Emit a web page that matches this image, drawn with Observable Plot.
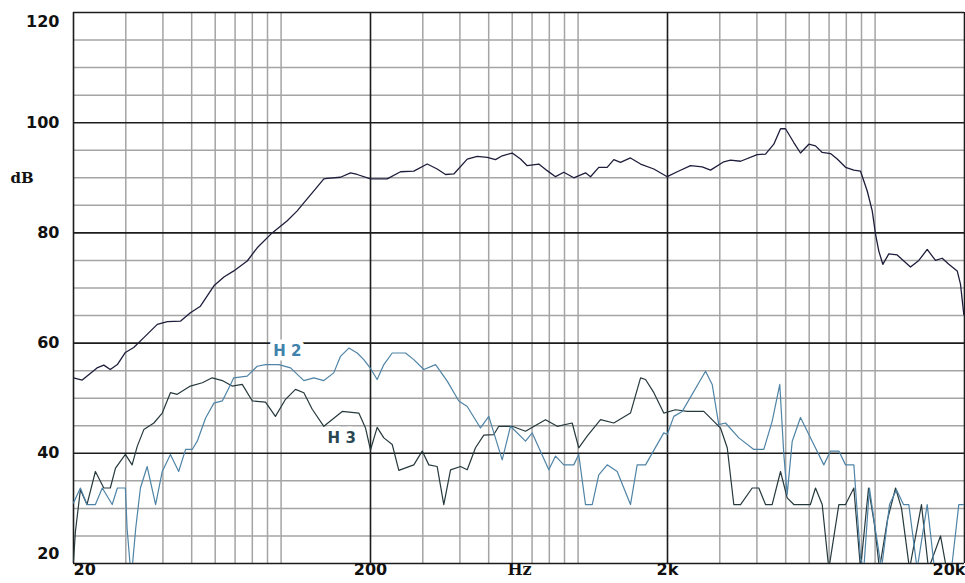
<!DOCTYPE html>
<html><head><meta charset="utf-8">
<script src="https://cdn.jsdelivr.net/npm/d3@7"></script>
<script src="https://cdn.jsdelivr.net/npm/@observablehq/plot@0.6"></script>
<style>body{margin:0;background:#fff}#chart svg{display:block}</style>
</head><body><div id="chart"></div>
<script>
// [frequency Hz, level dB]
const mainCurve = [[20,53.7],[21.4,53.3],[24,55.5],[25.3,56],[26.6,55.2],[28.1,56.1],[29.9,58.3],[31.9,59.2],[34.5,61],[38.3,63.4],[41.4,63.9],[45.9,64],[49.5,65.5],[53.5,66.7],[59.4,70.4],[64.2,72],[69.3,73.1],[76.9,74.9],[83.1,77.3],[93.3,80],[104.9,82.2],[113.3,84],[120.8,85.8],[130.6,88],[139.3,89.8],[143,89.9],[158.5,90.1],[171.3,90.9],[180.4,90.6],[200,89.8],[227.6,89.8],[252.4,91.1],[279.8,91.2],[310.4,92.5],[335.4,91.6],[357.8,90.6],[381.6,90.7],[423.4,93.4],[457.4,93.9],[494.4,93.7],[527.2,93.3],[555.2,94],[600,94.5],[640,93.4],[674,92.2],[737.4,92.5],[787,91.3],[839.4,90.2],[895.2,91],[967.2,90],[1059,90.9],[1101,90.2],[1174,91.9],[1253,91.9],[1319,93.3],[1389,92.8],[1501,93.6],[1623,92.5],[1799,91.6],[1996,90.2],[2157,91.1],[2391,92.2],[2618,92],[2792,91.4],[3094,92.9],[3260,93.2],[3524,93],[4009,94.2],[4276,94.3],[4560,96.1],[4804,98.9],[4994,98.9],[5324,96.4],[5608,94.5],[5982,96.1],[6300,95.8],[6636,94.6],[7078,94.4],[7456,93.4],[7952,91.9],[8482,91.4],[8932,91.2],[9408,87.6],[9780,84],[10032,79.8],[10292,76.7],[10616,74.3],[11122,76.2],[11868,76],[13158,73.8],[14036,75],[14978,77],[15974,75],[16826,75.4],[17710,74.3],[18900,73.1],[19388,70.7],[19890,65.2]];

const h2Curve = [[20,31],[21.1,33.7],[22.2,30.7],[23.7,30.7],[25,33.7],[27,30.7],[28.1,33.7],[29.9,33.7],[30.3,26.4],[31.1,19],[31.5,19],[32.4,26.4],[33.6,33.7],[35.4,37.6],[37.8,30.7],[39.8,36.7],[42.4,39.8],[45.2,36.7],[47.7,40.7],[50.2,40.7],[52.2,42.2],[55.7,46.4],[59.4,49.1],[63.4,49.5],[67.6,52.5],[69.3,53.7],[76.9,54],[83.1,55.8],[88.6,56.1],[98.2,56.1],[107.6,55.5],[119.3,53.2],[128.9,53.7],[139.3,53.2],[150.4,54.6],[158.5,57.6],[169.1,59.1],[180.4,58.2],[189.9,57],[200,55.4],[210.6,53.4],[221.8,56.1],[236.7,58.2],[262.4,58.2],[279.8,57],[302.4,55.2],[331.2,56.1],[362.6,53.1],[396.6,49.5],[423.4,48.5],[469.2,44.6],[500.4,46.7],[555.2,38.8],[592,44.9],[665.2,42.2],[700.6,43.7],[797,37],[839.4,39.5],[895.2,37.9],[967.2,37.9],[1005,39.8],[1059,30.7],[1116,30.7],[1174,36.1],[1253,37.9],[1354,36.7],[1501,30.7],[1581,37.9],[1687,37.9],[1943,43.7],[1996,43.4],[2100,46.7],[2242,47.6],[2686,54.9],[2828,52.5],[2976,45.2],[3136,45.5],[3478,42.8],[3906,40.7],[4220,40.7],[4502,45.8],[4776,52.5],[4928,39.8],[5058,32.5],[5260,42.2],[5608,46.5],[6140,42.2],[6720,37.9],[7078,40.4],[7550,40.4],[7952,37.9],[8482,37.9],[8590,33.7],[8932,21],[9162,19],[9572,33.7],[10032,26],[10508,19],[11184,30.7],[11804,33.4],[12462,30.7],[12988,30.7],[13856,19],[14978,30.7],[15850,19],[18082,19],[19136,30.7],[20000,30.7]];

const h3Curve = [[20,20.5],[20.3,25.8],[21.1,33.4],[22.2,30.7],[23.7,36.7],[25.3,33.7],[26.6,33.7],[27.7,37.3],[29.9,39.8],[31.5,37.9],[32.8,41.3],[34.5,44.3],[37.3,45.5],[39.8,47.3],[42.4,51],[44.7,50.7],[49.5,52.2],[54.3,52.8],[58.6,53.7],[63.4,53.2],[68.4,52.2],[74,52.5],[80,49.5],[88.6,49.3],[95.7,46.7],[103.5,49.8],[111.8,51.6],[119.3,51],[127.3,48],[139.3,44.9],[160.6,47.6],[182.7,47.3],[192.4,44.6],[200,40.6],[210.6,44.7],[221.8,42.8],[236.7,41.6],[249.1,36.9],[279.8,37.9],[298.6,40.4],[314.4,37.9],[335.4,37.6],[353,30.7],[372,37],[401.8,37.6],[423.4,37],[451.4,41],[481.4,43.3],[520.4,43.4],[540.8,44.9],[600,44.9],[665.2,44],[776.6,46.1],[850.6,44.9],[955.2,45.5],[1005,41],[1073,43.1],[1190,46.1],[1319,45.5],[1501,47.3],[1623,53.7],[1687,53.4],[1799,51],[1943,47.3],[2128,47.9],[2330,47.6],[2650,47.6],[2864,45.8],[3016,44.6],[3178,41],[3344,30.7],[3524,30.7],[3856,33.7],[4060,33.7],[4276,30.7],[4502,30.7],[4804,36.7],[5058,31.9],[5324,30.7],[6058,30.7],[6300,33.7],[6636,30.7],[6986,19],[7550,30.7],[7952,30.7],[8482,33.7],[8932,19],[9504,33.7],[9954,27],[10346,19],[11010,28],[11720,33.7],[12276,30],[13058,19],[14326,30.7],[15130,19],[16608,25],[17398,19]];

const majorHz = [20, 200, 2000, 20000];
const minorHz = [30,40,50,60,70,80,90,100,300,400,500,600,700,800,900,1000,3000,4000,5000,6000,7000,8000,9000,10000];
const majorDb = [20, 40, 60, 80, 100, 120];
const minorDb = [25,30,35,45,50,55,65,70,75,85,90,95,105,110,115];
const yTickLabels = [40, 60, 80, 100];
const xTickLabels = [{hz: 200, label: "200"}, {hz: 2000, label: "2k"}];
const curveLabels = [{hz: 105, db: 58.5, label: "H 2", color: "#3f82ab"}, {hz: 160, db: 42.8, label: "H 3", color: "#2a4852"}];

const sans = "DejaVu Sans";
const serif = "DejaVu Serif";
const common = {fontWeight: "bold", fontSize: 16, fill: "#111"};

const chart = Plot.plot({
  width: 965, height: 583,
  marginLeft: 73, marginRight: 1, marginTop: 12, marginBottom: 20,
  x: {type: "log", domain: [20, 20000], axis: null},
  y: {domain: [20, 120], axis: null},
  style: {background: "#fff", overflow: "visible"},
  marks: [
    Plot.ruleX(minorHz, {x: d => d, stroke: "#a4a4a4", strokeWidth: 1.5}),
    Plot.ruleY(minorDb, {y: d => d, stroke: "#a4a4a4", strokeWidth: 1.5}),
    Plot.ruleX(majorHz, {x: d => d, stroke: "#1c1c1c", strokeWidth: 1.6}),
    Plot.ruleY(majorDb, {y: d => d, stroke: "#1c1c1c", strokeWidth: 1.6}),
    Plot.text(curveLabels, {x: "hz", y: "db", text: "label", fill: "color", fontFamily: sans, fontWeight: "bold", fontSize: 15, stroke: "#fff", strokeWidth: 9, paintOrder: "stroke"}),
    Plot.line(h3Curve, {x: d => d[0], y: d => d[1], stroke: "#26393d", strokeWidth: 1.2, clip: true}),
    Plot.line(h2Curve, {x: d => d[0], y: d => d[1], stroke: "#4f84a6", strokeWidth: 1.2, clip: true}),
    Plot.line(mainCurve, {x: d => d[0], y: d => d[1], stroke: "#1e1e3c", strokeWidth: 1.3, clip: true}),
    Plot.text(yTickLabels, {y: d => d, text: d => String(d), frameAnchor: "left", dx: -14, textAnchor: "end", fontFamily: sans, ...common}),
    Plot.text([120], {y: d => d, text: d => String(d), frameAnchor: "left", dx: -14, dy: 9, textAnchor: "end", fontFamily: sans, ...common}),
    Plot.text([20], {y: d => d, text: d => String(d), frameAnchor: "left", dx: -14, dy: -10, textAnchor: "end", fontFamily: sans, ...common}),
    Plot.text(["dB"], {y: 90, text: d => d, frameAnchor: "left", dx: -63, textAnchor: "start", fontFamily: serif, ...common, fontSize: 15}),
    Plot.text(xTickLabels, {x: "hz", text: "label", frameAnchor: "bottom", dy: 11, fontFamily: sans, ...common}),
    Plot.text([20], {x: d => d, text: d => String(d), frameAnchor: "bottom", dy: 11, textAnchor: "start", fontFamily: sans, ...common}),
    Plot.text([20000], {x: d => d, text: () => "20k", frameAnchor: "bottom", dy: 11, dx: 1, textAnchor: "end", fontFamily: sans, ...common}),
    Plot.text(["Hz"], {x: 635, text: d => d, frameAnchor: "bottom", dy: 11, fontFamily: serif, ...common})
  ]
});
document.getElementById("chart").appendChild(chart);
</script>
</body></html>
